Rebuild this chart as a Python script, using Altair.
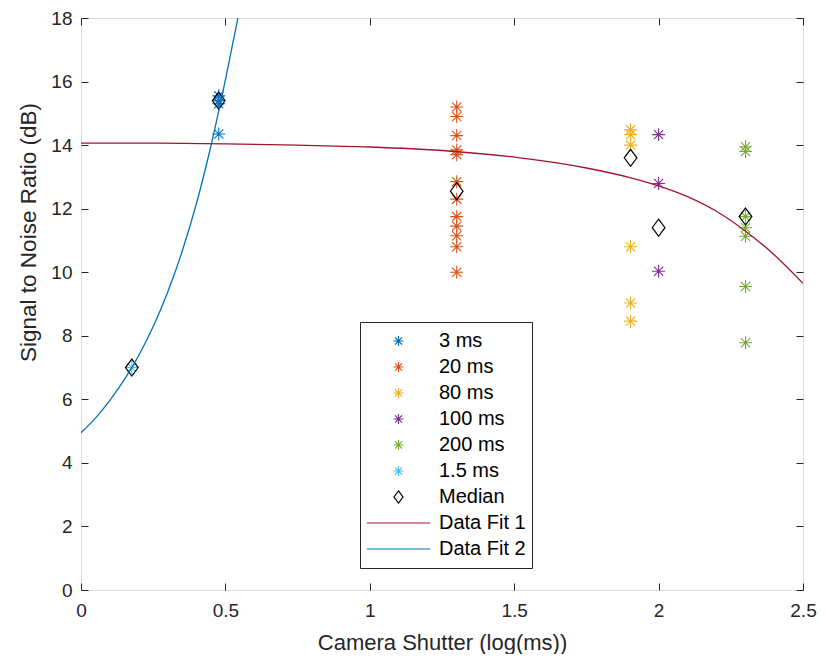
import altair as alt
import pandas as pd

# ---- data ----
series_names = ["3 ms", "20 ms", "80 ms", "100 ms", "200 ms", "1.5 ms"]
series_x = [0.477, 1.301, 1.903, 2.0, 2.301, 0.176]
snr_3ms = [15.55, 15.4, 15.3, 14.35]
snr_20ms = [15.2, 14.9, 14.3, 13.85, 13.7, 12.85, 12.3, 11.75, 11.45, 11.15, 10.8, 10.0]
snr_80ms = [14.48, 14.33, 14.0, 10.8, 9.03, 8.46]
snr_100ms = [14.33, 12.79, 10.03]
snr_200ms = [13.95, 13.8, 11.75, 11.4, 11.13, 9.55, 7.78]
snr_1_5ms = [7.0]
series_values = [snr_3ms, snr_20ms, snr_80ms, snr_100ms, snr_200ms, snr_1_5ms]

median_x = [0.176, 0.477, 1.301, 1.903, 2.0, 2.301]
median_y = [7.0, 15.4, 12.55, 13.6, 11.4, 11.75]

fit1_x = [0, 0.25, 0.5, 0.75, 1.0, 1.25, 1.5, 1.75, 1.9, 2.0, 2.1, 2.2, 2.3, 2.4, 2.5]
fit1_y = [14.06, 14.06, 14.04, 14.0, 13.94, 13.83, 13.62, 13.28, 12.98, 12.72, 12.38, 11.92, 11.3, 10.55, 9.65]

fit2_x = [0, 0.05, 0.10, 0.15, 0.20, 0.25, 0.30, 0.35, 0.40, 0.45, 0.50, 0.55]
fit2_y = [4.95, 5.41, 5.97, 6.62, 7.38, 8.29, 9.37, 10.65, 12.17, 13.98, 16.05, 18.3]

x_ticks = [0, 0.5, 1, 1.5, 2, 2.5]
y_ticks = [0, 2, 4, 6, 8, 10, 12, 14, 16, 18]

# ---- tables ----
rows = []
for name, xv, vals in zip(series_names, series_x, series_values):
    for v in vals:
        rows.append({"series": name, "x": xv, "snr": v})
stars_df = pd.DataFrame(rows)
median_df = pd.DataFrame({"x": median_x, "snr": median_y})
fit1_df = pd.DataFrame({"x": fit1_x, "snr": fit1_y, "series": "Data Fit 1"})
fit2_df = pd.DataFrame({"x": fit2_x, "snr": fit2_y, "series": "Data Fit 2"})

# ---- styles ----
a = 0.158
d = round(a * 0.707, 3)
star_path = (f"M{-a},0L{a},0M0,{-a}L0,{a}"
             f"M{-d},{-d}L{d},{d}M{-d},{d}L{d},{-d}")
diamond_path = "M0,-0.19L0.142,0L0,0.19L-0.142,0Z"
line_path = "M-1,0L1,0"

domain = series_names + ["Median", "Data Fit 1", "Data Fit 2"]
colors = ["#0072BD", "#D95319", "#EDB120", "#7E2F8E", "#77AC30", "#4DBEEE",
          "#000000", "#A2142F", "#0072BD"]
shapes = [star_path] * 6 + [diamond_path, line_path, line_path]
color_scale = alt.Scale(domain=domain, range=colors)
shape_scale = alt.Scale(domain=domain, range=shapes)
xs = alt.Scale(domain=[0, 2.5], nice=False, zero=False)
ys = alt.Scale(domain=[0, 18], nice=False, zero=False)

FONT = "Liberation Sans"
TXT = "#262626"

legend = alt.Legend(
    title=None, orient="none", legendX=279, legendY=304,
    fillColor="white", strokeColor=TXT, padding=6,
    symbolSize=4020, symbolStrokeWidth=1.2, clipHeight=26, rowPadding=0,
    labelFontSize=20, labelFont=FONT, labelColor="#000000", labelOffset=8,
    symbolFillColor="transparent",
)

x_axis = alt.Axis(
    title="Camera Shutter (log(ms))", values=x_ticks, format="~g",
    offset=-7, tickSize=7, domain=False, grid=False, labelFlush=False,
    labelPadding=11, labelFontSize=19, labelFont=FONT, labelColor=TXT,
    tickColor=TXT, titleFont=FONT, titleFontSize=22, titleFontWeight="normal",
    titleColor=TXT, titleBaseline="alphabetic", titleY=66, labelOverlap=False,
)
y_axis = alt.Axis(
    title="Signal to Noise Ratio (dB)", values=y_ticks, format="~g",
    offset=-7, tickSize=7, domain=False, grid=False, labelFlush=False,
    labelPadding=9, labelFontSize=19, labelFont=FONT, labelColor=TXT,
    tickColor=TXT, titleFont=FONT, titleFontSize=22.5, titleFontWeight="normal",
    titleColor=TXT, titleBaseline="middle", titleX=-60, titleY=214,
    labelOverlap=False,
)

stars = alt.Chart(stars_df).mark_point(filled=False, size=6760, strokeWidth=1.1, opacity=1).encode(
    x=alt.X("x:Q", scale=xs, axis=x_axis),
    y=alt.Y("snr:Q", scale=ys, axis=y_axis),
    color=alt.Color("series:N", scale=color_scale, legend=legend),
    shape=alt.Shape("series:N", scale=shape_scale, legend=legend),
)

medians = alt.Chart(median_df).mark_point(
    filled=False, shape=diamond_path, size=8010, stroke="#000000", strokeWidth=1.2, opacity=1
).encode(
    x=alt.X("x:Q", scale=xs, axis=None),
    y=alt.Y("snr:Q", scale=ys, axis=None),
)

def fit_layer(df):
    return alt.Chart(df).mark_line(interpolate="monotone", clip=True, strokeWidth=1.3).encode(
        x=alt.X("x:Q", scale=xs, axis=None),
        y=alt.Y("snr:Q", scale=ys, axis=None),
        color=alt.Color("series:N", scale=color_scale, legend=None),
    )

fit1 = fit_layer(fit1_df)
fit2 = fit_layer(fit2_df)

box_ticks = alt.Chart(median_df).mark_point(opacity=0).encode(
    x=alt.X("x:Q", scale=xs, axis=alt.Axis(orient="top", values=x_ticks, labels=False, title=None,
                                              offset=-7, tickSize=7, domain=False, grid=False, tickColor=TXT)),
    y=alt.Y("snr:Q", scale=ys, axis=alt.Axis(orient="right", values=y_ticks, labels=False, title=None,
                                                offset=-7, tickSize=7, domain=False, grid=False, tickColor=TXT)),
)

chart = alt.layer(stars, medians, fit1, fit2, box_ticks).resolve_scale(
    x="independent", y="independent"
).properties(
    width=722, height=572,
    padding={"left": 73, "top": 10, "right": 14, "bottom": 64},
    autosize=alt.AutoSizeParams(type="none"),
).configure_view(
    stroke=TXT, strokeWidth=1
).configure(
    font=FONT, background="white"
)

chart.save("out.html", embed_options={"renderer": "svg", "actions": False})
